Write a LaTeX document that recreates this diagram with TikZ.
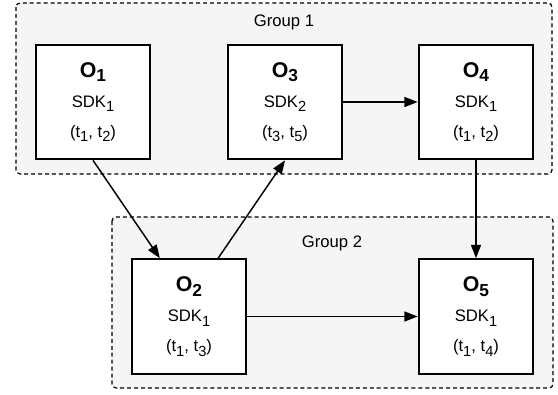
\documentclass[tikz,border=0pt]{standalone}
\usepackage{fontspec}
\setmainfont{Liberation Sans}
\usepackage{tikz}
\usepackage{xcolor}
\usetikzlibrary{arrows.meta, calc}
\definecolor{groupgray}{RGB}{245, 245, 245}

\newcommand{\sub}[1]{\raisebox{-3.5pt}{\fontsize{11}{12}\selectfont #1}}
\newcommand{\objlabel}[4]{%
    {\fontsize{16}{22.5}\selectfont\bfseries O\raisebox{-3.5pt}{\fontsize{13}{14}\selectfont #1}}\\
    SDK\sub{#2}\\
    (t\sub{#3}, t\sub{#4})}

\tikzset{
    groupbox/.style={draw, dashed, dash pattern=on 3pt off 2.2pt, line width=0.9pt, rounded corners=3pt, fill=groupgray},
    objbox/.style={draw, line width=1.5pt, fill=white, minimum width=86pt, minimum height=86pt, inner sep=0pt, align=center, font=\fontsize{12.5}{22.5}\selectfont},
    flow/.style={line width=1.1pt, -{Triangle[length=10pt, width=7.5pt]}}
}

\begin{document}
\begin{tikzpicture}[x=0.75pt, y=-0.75pt]
            \useasboundingbox (0,0) rectangle (558,394);

            % Group 1 box
            \draw[groupbox] (16,3) rectangle (552,174);
            \node[font=\fontsize{12.5}{14}\selectfont] (g1) at (284,22) {Group 1};

            % Group 2 box
            \draw[groupbox] (112,217) rectangle (553,388);
            \node[font=\fontsize{12.5}{14}\selectfont] (g2) at (332,243) {Group 2};

            % Objects
            \node[objbox] (o1) at (93,102) {\objlabel{1}{1}{1}{2}};
            \node[objbox] (o3) at (285,102) {\objlabel{3}{2}{3}{5}};
            \node[objbox] (o4) at (476,102) {\objlabel{4}{1}{1}{2}};
            \node[objbox] (o2) at (189,316.5) {\objlabel{2}{1}{1}{3}};
            \node[objbox] (o5) at (476,316.5) {\objlabel{5}{1}{1}{4}};

            % Arrows
            \draw[flow] (o1.south) -- ($(o2.north west)!0.25!(o2.north east)$);
            \draw[flow] ($(o2.north west)!0.75!(o2.north east)$) -- (o3.south);
            \draw[flow] (o3.east) -- (o4.west);
            \draw[flow] (o4.south) -- (o5.north);
            \draw[flow] (o2.east) -- (o5.west);
        \end{tikzpicture}
\end{document}
